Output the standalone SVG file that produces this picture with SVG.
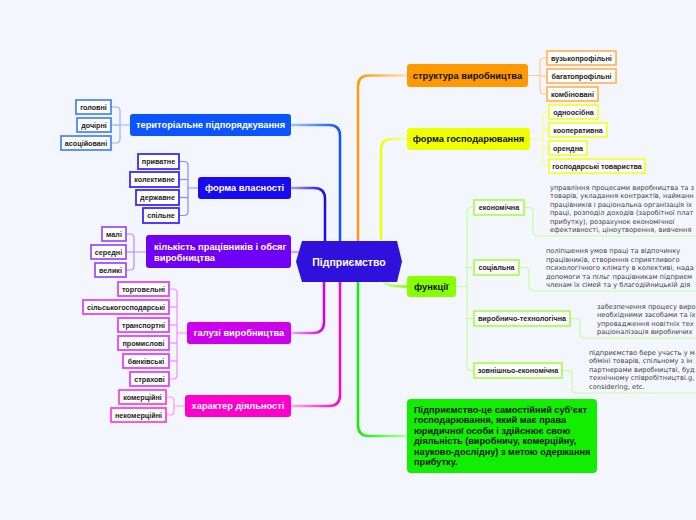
<svg xmlns="http://www.w3.org/2000/svg" width="696" height="520" viewBox="0 0 696 520">
<defs>
<style>
.main{stroke-width:2.5;fill:none;stroke-linecap:round}
.sub{stroke-width:1.2;fill:none}
.lbl{font-family:"Liberation Sans",Arial,sans-serif;font-weight:bold;font-size:9.3px;fill:#fff}
.lblk{font-family:"Liberation Sans",Arial,sans-serif;font-weight:bold;font-size:9.3px;fill:#111}
.ch{font-family:"Liberation Sans",Arial,sans-serif;font-weight:bold;font-size:7.2px;fill:#222}
.cb{fill:#fff;stroke-width:1.8}
.desc{font-family:"DejaVu Sans",Verdana,sans-serif;font-size:6.7px;fill:#444}
.def{font-family:"Liberation Sans",Arial,sans-serif;font-weight:bold;font-size:9.2px;fill:#111}
</style>
<linearGradient id="gBlue" gradientUnits="userSpaceOnUse" x1="291" y1="0" x2="340" y2="0"><stop offset="0" stop-color="#a9c5ff"/><stop offset="1" stop-color="#0a55ff"/></linearGradient>
<linearGradient id="gDBlue" gradientUnits="userSpaceOnUse" x1="291" y1="0" x2="325" y2="0"><stop offset="0" stop-color="#a49cff"/><stop offset="1" stop-color="#1a0af0"/></linearGradient>
<linearGradient id="gMag" gradientUnits="userSpaceOnUse" x1="291" y1="0" x2="324" y2="0"><stop offset="0" stop-color="#f0a8ff"/><stop offset="1" stop-color="#cc00ee"/></linearGradient>
<linearGradient id="gPink" gradientUnits="userSpaceOnUse" x1="291" y1="0" x2="340" y2="0"><stop offset="0" stop-color="#ffaaee"/><stop offset="1" stop-color="#ff00cc"/></linearGradient>
<linearGradient id="gOr" gradientUnits="userSpaceOnUse" x1="358" y1="0" x2="407" y2="0"><stop offset="0" stop-color="#ff9900"/><stop offset="1" stop-color="#ffe0b8"/></linearGradient>
<linearGradient id="gYel" gradientUnits="userSpaceOnUse" x1="381" y1="0" x2="407" y2="0"><stop offset="0" stop-color="#eeff00"/><stop offset="1" stop-color="#f8ffaa"/></linearGradient>
<linearGradient id="gGr" gradientUnits="userSpaceOnUse" x1="358" y1="0" x2="407" y2="0"><stop offset="0" stop-color="#11ee00"/><stop offset="1" stop-color="#b8ffb0"/></linearGradient>
<linearGradient id="gLG" gradientUnits="userSpaceOnUse" x1="384" y1="0" x2="407" y2="0"><stop offset="0" stop-color="#c8ff99"/><stop offset="1" stop-color="#88ff00"/></linearGradient>
</defs>
<rect width="696" height="520" fill="#f4f6fe"/>

<g id="connectors">
<path class="main" stroke="url(#gBlue)" d="M340,241 V136 Q340,125 329,125 H291"/>
<path class="main" stroke="url(#gDBlue)" d="M325,241 V199 Q325,188 314,188 H291"/>
<path class="main" stroke="#c9a8ff" d="M291,252 H298"/>
<path class="main" stroke="url(#gMag)" d="M324,282 V322 Q324,333 313,333 H291"/>
<path class="main" stroke="url(#gPink)" d="M340,282 V395 Q340,406 329,406 H291"/>
<path class="main" stroke="url(#gOr)" d="M358,241 V86.5 Q358,75.5 369,75.5 H407"/>
<path class="main" stroke="url(#gYel)" d="M381,241 V150 Q381,139 392,139 H407"/>
<path class="main" stroke="url(#gLG)" d="M384,282 C388,286 395,286.5 407,286.5"/>
<path class="main" stroke="url(#gGr)" d="M358,282 V425 Q358,436 369,436 H407"/>

<g stroke="#8fb3ff" class="sub">
<path d="M130,125 H120 V111 Q120,107 116,107 H111"/>
<path d="M120,125 H111"/>
<path d="M120,125 V139 Q120,143 116,143 H111"/>
</g>
<g stroke="#8f88ff" class="sub">
<path d="M198,188 H188 V165.5 Q188,161.5 184,161.5 H179"/>
<path d="M188,179.5 H179"/>
<path d="M188,188 V211.5 Q188,215.5 184,215.5 H179"/>
<path d="M188,197.5 H179"/>
</g>
<g stroke="#b98cff" class="sub">
<path d="M146,252 H134 V238 Q134,234 130,234 H126"/>
<path d="M134,252 H126"/>
<path d="M134,252 V266 Q134,270 130,270 H126"/>
</g>
<g stroke="#e890ff" class="sub">
<path d="M187,333 H177 V293 Q177,289 173,289 H169"/>
<path d="M177,307 H169"/>
<path d="M177,325 H169"/>
<path d="M177,343 H169"/>
<path d="M177,361 H169"/>
<path d="M177,333 V375 Q177,379 173,379 H169"/>
</g>
<g stroke="#ff99e6" class="sub">
<path d="M185,406 H174 V401 Q174,397 170,397 H166"/>
<path d="M174,406 V411 Q174,415 170,415 H166"/>
</g>
<g stroke="#ffc98a" class="sub">
<path d="M528,75.5 H540 V62 Q540,58 544,58 H547"/>
<path d="M540,76 H547"/>
<path d="M540,75.5 V90 Q540,94 544,94 H547"/>
</g>
<g stroke="#f4ff8a" class="sub">
<path d="M530,139 H543 V116 Q543,112 547,112 H549"/>
<path d="M543,130 H549"/>
<path d="M543,148 H549"/>
<path d="M543,139 V162 Q543,166 547,166 H549"/>
</g>
<g stroke="#c4ff99" class="sub">
<path d="M456,286.5 H467 V211.5 Q467,207.5 471,207.5 H474"/>
<path d="M467,267.5 H474"/>
<path d="M467,318.5 H474"/>
<path d="M467,286.5 V366.5 Q467,370.5 471,370.5 H474"/>
<path d="M524,207.5 H530 Q533,207.5 533,211 V231 Q533,236 538,236 H696"/>
<path d="M519,267.5 H526 Q529,267.5 529,271 V286 Q529,291 534,291 H696"/>
<path d="M570,318.5 H577 Q580,318.5 580,322 V333 Q580,338 585,338 H696"/>
<path d="M562,370.5 H569 Q572,370.5 572,374 V388 Q572,393 577,393 H696"/>
</g>
</g>

<g id="center">
<polygon points="296,261.5 302,241 397,241 402,261.5 397,282 302,282" fill="#3010dd"/>
<text class="lbl" x="349" y="265.5" text-anchor="middle" style="font-size:10.5px">Підприємство</text>
</g>

<g id="teritorialne">
<rect x="130" y="114" width="161" height="22" rx="3" fill="#0a55ff"/>
<text class="lbl" x="210.5" y="128.3" text-anchor="middle">територіальне підпорядкування</text>
</g>
<g id="golovni"><rect class="cb" stroke="#4d88ff" x="76" y="100" width="35" height="14"/><text class="ch" x="93.5" y="109.5" text-anchor="middle">головні</text></g>
<g id="dochirni"><rect class="cb" stroke="#4d88ff" x="77" y="118" width="34" height="14"/><text class="ch" x="94" y="127.5" text-anchor="middle">дочірні</text></g>
<g id="asotsiiovani"><rect class="cb" stroke="#4d88ff" x="61" y="136" width="50" height="14"/><text class="ch" x="86" y="145.5" text-anchor="middle">асоційовані</text></g>

<g id="forma-vlasnosti">
<rect x="198" y="177" width="93" height="22" rx="3" fill="#1a0af0"/>
<text class="lbl" x="244.5" y="191.3" text-anchor="middle">форма власності</text>
</g>
<g id="pryvatne"><rect class="cb" stroke="#3a2aff" x="138" y="154" width="41" height="15"/><text class="ch" x="158.5" y="164" text-anchor="middle">приватне</text></g>
<g id="kolektyvne"><rect class="cb" stroke="#3a2aff" x="130" y="172" width="49" height="15"/><text class="ch" x="154.5" y="182" text-anchor="middle">колективне</text></g>
<g id="derzhavne"><rect class="cb" stroke="#3a2aff" x="136" y="190" width="43" height="15"/><text class="ch" x="157.5" y="200" text-anchor="middle">державне</text></g>
<g id="spilne"><rect class="cb" stroke="#3a2aff" x="143" y="208" width="36" height="15"/><text class="ch" x="161" y="218" text-anchor="middle">спільне</text></g>

<g id="kilkist">
<rect x="146" y="235" width="145" height="33" rx="3" fill="#7000f5"/>
<text class="lbl" x="154" y="249.5">кількість працівників і обсяг</text>
<text class="lbl" x="154" y="260.5">виробництва</text>
</g>
<g id="mali"><rect class="cb" stroke="#a050ff" x="102" y="227" width="24" height="14"/><text class="ch" x="114" y="236.5" text-anchor="middle">малі</text></g>
<g id="seredni"><rect class="cb" stroke="#a050ff" x="91" y="245" width="35" height="14"/><text class="ch" x="108.5" y="254.5" text-anchor="middle">середні</text></g>
<g id="velyki"><rect class="cb" stroke="#a050ff" x="95" y="263" width="31" height="14"/><text class="ch" x="110.5" y="272.5" text-anchor="middle">великі</text></g>

<g id="haluzi">
<rect x="187" y="322" width="104" height="22" rx="3" fill="#cc00ee"/>
<text class="lbl" x="239" y="336.3" text-anchor="middle">галузі виробництва</text>
</g>
<g id="torhovelni"><rect class="cb" stroke="#dd44ff" x="118" y="282" width="51" height="14"/><text class="ch" x="143.5" y="291.5" text-anchor="middle">торговельні</text></g>
<g id="silskohospodarski"><rect class="cb" stroke="#dd44ff" x="83" y="300" width="86" height="14"/><text class="ch" x="126" y="309.5" text-anchor="middle">сільськогосподарські</text></g>
<g id="transportni"><rect class="cb" stroke="#dd44ff" x="118" y="318" width="51" height="14"/><text class="ch" x="143.5" y="327.5" text-anchor="middle">транспортні</text></g>
<g id="promyslovi"><rect class="cb" stroke="#dd44ff" x="118" y="336" width="51" height="14"/><text class="ch" x="143.5" y="345.5" text-anchor="middle">промислові</text></g>
<g id="bankivski"><rect class="cb" stroke="#dd44ff" x="123" y="354" width="46" height="14"/><text class="ch" x="146" y="363.5" text-anchor="middle">банківські</text></g>
<g id="strakhovi"><rect class="cb" stroke="#dd44ff" x="130" y="372" width="39" height="14"/><text class="ch" x="149.5" y="381.5" text-anchor="middle">страхові</text></g>

<g id="kharakter">
<rect x="185" y="395" width="106" height="22" rx="3" fill="#ff00cc"/>
<text class="lbl" x="238" y="409.3" text-anchor="middle">характер діяльності</text>
</g>
<g id="komertsiini"><rect class="cb" stroke="#ff44dd" x="119" y="390" width="47" height="14"/><text class="ch" x="142.5" y="399.5" text-anchor="middle">комерційні</text></g>
<g id="nekomertsiini"><rect class="cb" stroke="#ff44dd" x="111" y="408" width="55" height="14"/><text class="ch" x="138.5" y="417.5" text-anchor="middle">некомерційні</text></g>

<g id="struktura">
<rect x="407" y="64" width="121" height="23" rx="3" fill="#ff9900"/>
<text class="lblk" x="467.5" y="78.8" text-anchor="middle">структура виробництва</text>
</g>
<g id="vuzkoprofilni"><rect class="cb" stroke="#ffb860" x="547" y="51" width="69" height="14"/><text class="ch" x="581.5" y="60.5" text-anchor="middle">вузькопрофільні</text></g>
<g id="bahatoprofilni"><rect class="cb" stroke="#ffb860" x="547" y="69" width="69" height="14"/><text class="ch" x="581.5" y="78.5" text-anchor="middle">багатопрофільні</text></g>
<g id="kombinovani"><rect class="cb" stroke="#ffb860" x="547" y="87" width="51" height="14"/><text class="ch" x="572.5" y="96.5" text-anchor="middle">комбіновані</text></g>

<g id="forma-hospodariuvannia">
<rect x="407" y="128" width="123" height="22" rx="3" fill="#eeff00"/>
<text class="lblk" x="468.5" y="142.3" text-anchor="middle">форма господарювання</text>
</g>
<g id="odnoosibna"><rect class="cb" stroke="#f2ff33" x="549" y="105" width="49" height="14"/><text class="ch" x="573.5" y="114.5" text-anchor="middle">одноосібна</text></g>
<g id="kooperatyvna"><rect class="cb" stroke="#f2ff33" x="549" y="123" width="58" height="14"/><text class="ch" x="578" y="132.5" text-anchor="middle">кооперативна</text></g>
<g id="orendna"><rect class="cb" stroke="#f2ff33" x="549" y="141" width="38" height="14"/><text class="ch" x="568" y="150.5" text-anchor="middle">орендна</text></g>
<g id="hospodarski"><rect class="cb" stroke="#f2ff33" x="549" y="159" width="96" height="14"/><text class="ch" x="597" y="168.5" text-anchor="middle">господарські товариства</text></g>

<g id="funktsii">
<rect x="407" y="276" width="49" height="21" rx="3" fill="#88ff00"/>
<text class="lblk" x="414" y="289.8">функції</text>
</g>
<g id="ekonomichna">
<rect class="cb" stroke="#aaff55" x="474" y="200" width="50" height="15"/><text class="ch" x="499" y="210" text-anchor="middle">економічна</text>
<text class="desc" x="550" y="189.5">управління процесами виробництва та з</text>
<text class="desc" x="550" y="198">товарів, укладання контрактів, найманн</text>
<text class="desc" x="550" y="206.5">працівників і раціональна організація їх</text>
<text class="desc" x="550" y="215">праці, розподіл доходів (заробітної плат</text>
<text class="desc" x="550" y="223.5">прибутку), розрахунок економічної</text>
<text class="desc" x="550" y="232">ефективності, ціноутворення, вивчення</text>
</g>
<g id="sotsialna">
<rect class="cb" stroke="#aaff55" x="474" y="260" width="45" height="15"/><text class="ch" x="496.5" y="270" text-anchor="middle">соціальна</text>
<text class="desc" x="546" y="253">поліпшення умов праці та відпочинку</text>
<text class="desc" x="546" y="261.5">працівників, створення сприятливого</text>
<text class="desc" x="546" y="270">психологічного клімату в колективі, нада</text>
<text class="desc" x="546" y="278.5">допомоги та пільг працівникам підприєм</text>
<text class="desc" x="546" y="287">членам їх сімей та у благодійницькій дія</text>
</g>
<g id="vyrobnycho-tekhnolohichna">
<rect class="cb" stroke="#aaff55" x="474" y="311" width="96" height="15"/><text class="ch" x="522" y="321" text-anchor="middle">виробничо-технологічна</text>
<text class="desc" x="597" y="308.5">забезпечення процесу виро</text>
<text class="desc" x="597" y="317">необхідними засобами та їх</text>
<text class="desc" x="597" y="325.5">упровадження новітніх тех</text>
<text class="desc" x="597" y="334">раціоналізація виробничих</text>
</g>
<g id="zovnishno-ekonomichna">
<rect class="cb" stroke="#aaff55" x="474" y="363" width="88" height="15"/><text class="ch" x="518" y="373" text-anchor="middle">зовнішньо-економічна</text>
<text class="desc" x="589" y="354.5">підприємство бере участь у м</text>
<text class="desc" x="589" y="363">обміні товарів, спільному з ін</text>
<text class="desc" x="589" y="371.5">партнерами виробництві, буд</text>
<text class="desc" x="589" y="380">технічному співробітництві.g,</text>
<text class="desc" x="589" y="388.5">considering, etc.</text>
</g>

<g id="vyznachennia">
<rect x="407" y="399" width="190" height="74" rx="4" fill="#11ee00"/>
<text class="def" x="414" y="412.5">Підприємство-це самостійний суб’єкт</text>
<text class="def" x="414" y="423">господарювання, який має права</text>
<text class="def" x="414" y="433.5">юридичної особи і здійснює свою</text>
<text class="def" x="414" y="444">діяльність (виробничу, комерційну,</text>
<text class="def" x="414" y="454.5">науково-дослідну) з метою одержання</text>
<text class="def" x="414" y="465">прибутку.</text>
</g>
</svg>
